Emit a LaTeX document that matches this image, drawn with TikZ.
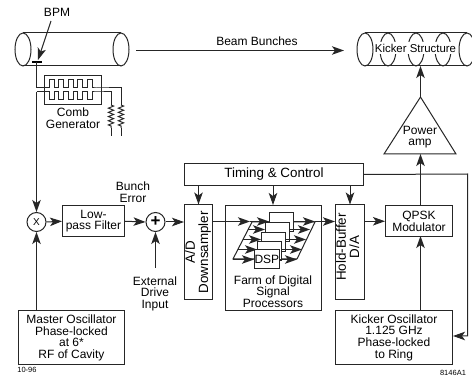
\documentclass[tikz,border=0pt]{standalone}
\usepackage{fontspec}
\usepackage{graphicx}
\setmainfont{Liberation Sans}
\usetikzlibrary{arrows.meta,decorations.pathmorphing}
\tikzset{
  every node/.style={font=\fontsize{12}{11.6}\selectfont,align=center,inner sep=0pt},
  wire/.style={line width=1pt,draw=black!85},
  arr/.style={wire,-{Stealth[length=12pt,width=8.5pt,inset=3pt]}},
  box/.style={draw=black!85,line width=1pt,rectangle,fill=white,anchor=north west},
  dspbox/.style={box,minimum width=24pt,minimum height=19pt},
  junction/.style={draw=black!85,line width=1pt,circle,minimum size=19pt,fill=white},
  tiny/.style={font=\fontsize{7.5}{8}\selectfont},
  big/.style={font=\fontsize{13.4}{12}\selectfont},
  zig/.style={wire,decorate,decoration={zigzag,amplitude=2.6pt,segment length=4.2pt}},
  cyl/.style={line width=1pt,draw=black!85}
}
\newcommand{\rot}[1]{\rotatebox[origin=c]{90}{\fontsize{13.4}{12}\selectfont\begin{tabular}{@{}c@{}}#1\end{tabular}}}
\begin{document}
\begin{tikzpicture}[x=1pt,y=-1pt]
\useasboundingbox (0,0) rectangle (472,377);
% left beam pipe
\draw[cyl] (23,33) -- (121,33) (23,66) -- (121,66);
\draw[cyl] (23,49.5) ellipse [x radius=8,y radius=16.5];
\draw[cyl] (121,49.5) ellipse [x radius=8,y radius=16.5];
% kicker structure
\draw[cyl] (365,33) -- (467,33) (365,66) -- (467,66);
\foreach \cx in {365,388,416,443,467}
  \draw[cyl] (\cx,49.5) ellipse [x radius=8,y radius=16.5];
\node[fill=white,inner xsep=1pt,inner ysep=1.5pt,font=\fontsize{11.4}{12}\selectfont] (kicker) at (415.5,48) {Kicker Structure};
% beam
\coordinate (beamstart) at (136,50.5);
\coordinate (beamend) at (344,50.5);
\draw[arr] (beamstart) -- (beamend);
\node (beamlabel) at (257,41) {Beam Bunches};
% BPM
\node (bpm) at (57,12) {BPM};
\coordinate (pickup) at (36.5,62);
\coordinate (bpmtip) at (38,60);
\draw[arr] (51,21) -- (bpmtip);
\draw[line width=1.8pt,black] (32,62) -- (42,62);
% comb generator
\node[box,minimum width=57pt,minimum height=29pt] (comb) at (43.5,75) {};
\node (comblabel) at (73,118.5) {Comb\\[0.3pt]Generator};
\coordinate (combin) at (36.5,88);
\coordinate (combout) at (36.5,92);
\coordinate (r1) at (111,92);
\coordinate (r2) at (121,88);
\draw[wire] (pickup) -- (combin) -- (49,88) -- (49,80)
  -- (54,80) -- (54,88) -- (58.5,88) -- (58.5,80) -- (63.5,80) -- (63.5,88)
  -- (68,88) -- (68,80) -- (73,80) -- (73,88) -- (77.5,88) -- (77.5,80)
  -- (82.5,80) -- (82.5,88) -- (87,88) -- (87,80) -- (92,80) -- (92,88)
  -- (96,88) -- (r2) -- (121,105);
\draw[wire] (combout) -- (49,92) -- (49,100)
  -- (54,100) -- (54,92) -- (58.5,92) -- (58.5,100) -- (63.5,100) -- (63.5,92)
  -- (68,92) -- (68,100) -- (73,100) -- (73,92) -- (77.5,92) -- (77.5,100)
  -- (82.5,100) -- (82.5,92) -- (87,92) -- (87,100) -- (92,100) -- (92,92)
  -- (96,92) -- (r1) -- (111,105);
\draw[zig] (111,105) -- (111,128);
\draw[zig] (121,105) -- (121,128);
\draw[wire] (111,128) -- (111,136);
\draw[wire] (121,128) -- (121,136);
% lower row
\node[junction] (mix) at (36.5,222) {\fontsize{10}{10}\selectfont X};
\node[box,minimum width=62pt,minimum height=30.5pt] (lpf) at (62,205.5) {Low-\\pass Filter};
\node[junction] (sum) at (155.5,222) {\fontsize{17}{17}\selectfont\textbf{+}};
\node (bunch) at (133,192.5) {Bunch\\Error};
\node (ext) at (155,293.5) {External\\Drive\\Input};
\node[box,minimum width=28pt,minimum height=94.5pt] (adc) at (184,204.5) {\rot{A/D\\Downsampler}};
\node[box,big,minimum width=179pt,minimum height=22pt] (timing) at (184,163) {Timing \& Control};
\node[box,minimum width=95.5pt,minimum height=105pt] (farm) at (225,205) {};
\node (farmlabel) at (273,291.5) {Farm of Digital\\Signal\\Processors};
\node[box,minimum width=29pt,minimum height=94.5pt] (hold) at (335,204.5) {};
\node (holdlabel) at (349.5,247) {\rot{Hold-Buffer\\D/A}};
\node[box,minimum width=67pt,minimum height=30.5pt] (qpsk) at (385,205.5) {QPSK\\Modulator};
\node[box,minimum width=117pt,minimum height=54pt] (kosc) at (335,310) {Kicker Oscillator\\1.125 GHz\\Phase-locked\\to Ring};
\node[box,minimum width=106pt,minimum height=53.5pt] (master) at (18,310.5) {Master Oscillator\\Phase-locked\\at 6*\\RF of Cavity};
\coordinate (apex) at (420.5,97);
\coordinate (ampL) at (384,154);
\coordinate (ampR) at (456,154);
\coordinate (ampB) at (420.5,154);
\draw[draw=black!85,line width=1pt] (apex) -- (ampL) -- (ampR) -- cycle;
\node (amp) at (420,137) {Power\\amp};
\node[tiny] (date) at (27,370) {10-96};
\node[tiny] (code) at (453,373) {8146A1};
% connectors
\draw[wire] (36.5,92) -- (36.5,205);
\draw[arr] (36.5,195) -- (mix.north);
\draw[arr] (mix |- master.north) -- (mix.south);
\draw[arr] (mix.east) -- (lpf.west);
\draw[arr] (lpf.east) -- (sum.west);
\coordinate (extin) at (155.5,268);
\draw[arr] (extin) -- (sum.south);
\draw[arr] (sum.east) -- (adc.west |- sum.east);
\draw[arr] (timing.south -| adc.north) -- (adc.north);
\draw[arr] (timing.south -| farmlabel) -- (farmlabel |- farm.north);
\draw[arr] (timing.south -| hold.north) -- (hold.north);
% timing to kicker oscillator
\coordinate (corner) at (467.5,174);
\draw[arr] (timing.east) -- (corner) -- (467.5,336) -- (kosc.east |- 0,336);
\draw[arr] (hold.east |- qpsk.west) -- (qpsk.west);
\draw[arr] (420.5,310) -- (420.5,236);
\draw[wire] (420.5,205.5) -- (420.5,170);
\draw[arr] (420.5,175) -- (ampB);
\draw[arr] (apex) -- (420.5,66);
% DSP farm
\coordinate (pa) at (252,222);
\coordinate (pb) at (233,259);
\coordinate (pc) at (297,259);
\coordinate (pd) at (315,222);
\draw[wire] (pa) -- (pb) -- (pc);
\draw[wire] (pc) -- (pd) -- (pa);
\node[dspbox] (d5) at (269,212) {};
\node[dspbox] (d4) at (265,222) {};
\node[dspbox] (d3) at (261,232) {};
\node[dspbox] (d2) at (257,241) {};
\node[dspbox] (d1) at (254,249) {DSP};
\draw[arr] (adc.east |- 0,221.5) -- (250,221.5);
\draw[arr] (250,221.5) -- (d5.west |- 0,221.5);
\draw[arr] (247.5,229.5) -- (d4.west |- 0,229.5);
\draw[arr] (242.5,239.5) -- (d3.west |- 0,239.5);
\draw[arr] (237.5,249.5) -- (d2.west |- 0,249.5);
\draw[arr] (233,259.5) -- (d1.west |- 0,259.5);
\draw[arr] (d5.east |- 0,221.5) -- (315,221.5);
\draw[arr] (d4.east |- 0,229.5) -- (310,229.5);
\draw[arr] (d3.east |- 0,239.5) -- (306,239.5);
\draw[arr] (d2.east |- 0,249.5) -- (302,249.5);
\draw[arr] (d1.east |- 0,259.5) -- (297,259.5);
\draw[arr] (315,221.5) -- (hold.west |- 0,221.5);
\end{tikzpicture}
\end{document}
